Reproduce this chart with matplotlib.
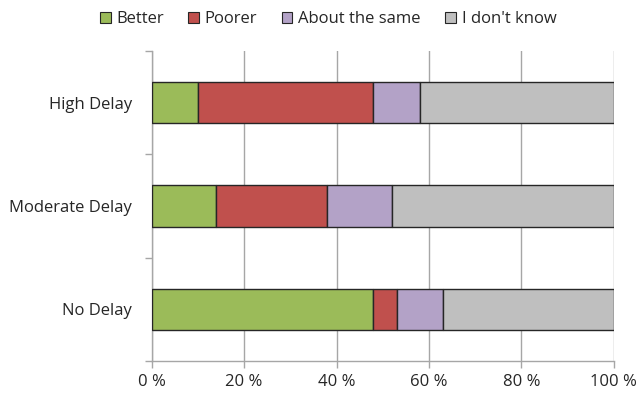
import matplotlib
matplotlib.use("Agg")
import matplotlib.pyplot as plt
from matplotlib.patches import Patch
import numpy as np

plt.rcParams['font.family'] = ['Open Sans', 'DejaVu Sans']

categories = ["No Delay", "Moderate Delay", "High Delay"]
series = ["Better", "Poorer", "About the same", "I don't know"]
better = [48, 14, 10]
poorer = [5, 24, 38]
same = [10, 14, 10]
dont_know = [37, 48, 42]
colors = ["#9BBB59", "#C0504D", "#B3A2C7", "#BFBFBF"]
xticks = [0, 20, 40, 60, 80, 100]
xtick_labels = ["0 %", "20 %", "40 %", "60 %", "80 %", "100 %"]

fig = plt.figure(figsize=(6.38, 3.97), dpi=100)
ax = fig.add_axes([0.2378, 0.0907, 0.7241, 0.7803])

y = np.arange(len(categories))
left = np.zeros(len(categories))
for vals, col in zip([better, poorer, same, dont_know], colors):
    ax.barh(y, vals, left=left, height=0.4, color=col, edgecolor="#262626",
            linewidth=1.0, zorder=3)
    left += np.array(vals)

ax.set_xlim(0, 100)
ax.set_ylim(-0.5, 2.5)

ax.set_xticks(xticks)
ax.set_xticklabels(xtick_labels, fontsize=12, color="#262626")
ax.xaxis.grid(True, color="#A6A6A6", linewidth=1.0, zorder=0)

ax.set_yticks(np.arange(-0.5, 3.0, 1.0))
ax.set_yticklabels([])
ax.set_yticks(y, minor=True)
ax.set_yticklabels(categories, minor=True, fontsize=12, color="#262626")
ax.tick_params(axis="y", which="minor", length=0, pad=14)
ax.tick_params(axis="y", which="major", length=5, color="#A6A6A6", width=1)
ax.tick_params(axis="x", length=5, color="#A6A6A6", width=1, pad=4.5)

for s in ["top", "right"]:
    ax.spines[s].set_visible(False)
for s in ["left", "bottom"]:
    ax.spines[s].set_color("#A6A6A6")
    ax.spines[s].set_linewidth(1.0)

handles = [Patch(facecolor=c, edgecolor="#262626", linewidth=0.8) for c in colors]
fig.legend(handles, series, loc="center", bbox_to_anchor=(328 / 638, 1 - 19 / 397),
           ncol=4, frameon=False, fontsize=12, handlelength=0.65, handleheight=0.65,
           handletextpad=0.35, columnspacing=1.45, labelcolor="#262626")

fig.savefig("out.png", dpi=100)
